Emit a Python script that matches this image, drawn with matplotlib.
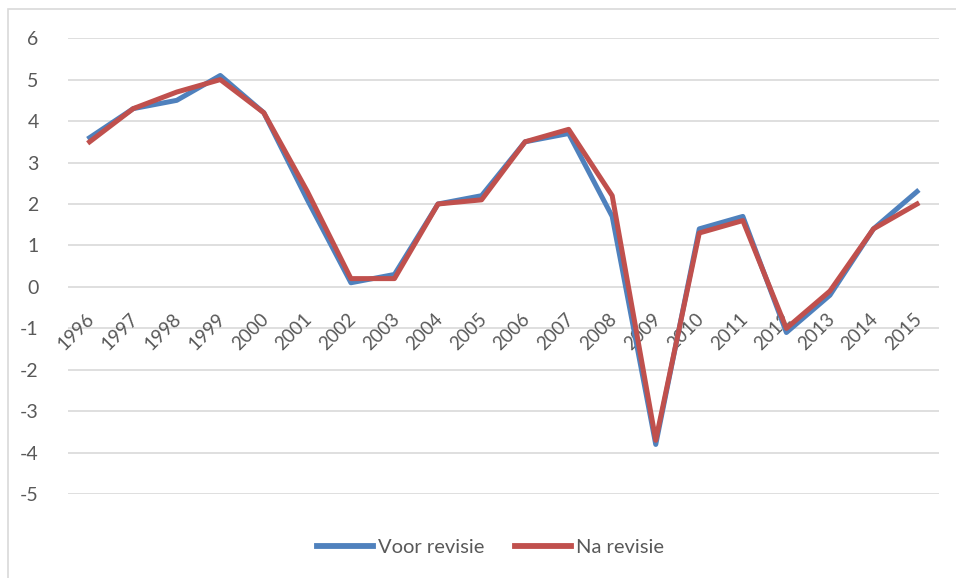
import matplotlib
matplotlib.use('Agg')
import matplotlib.pyplot as plt
from matplotlib.patches import Rectangle
from matplotlib.transforms import offset_copy

years = ['1996', '1997', '1998', '1999', '2000', '2001', '2002', '2003', '2004', '2005',
         '2006', '2007', '2008', '2009', '2010', '2011', '2012', '2013', '2014', '2015']
voor_revisie = [3.6, 4.3, 4.5, 5.1, 4.2, 2.1, 0.1, 0.3, 2.0, 2.2,
                3.5, 3.7, 1.7, -3.8, 1.4, 1.7, -1.1, -0.2, 1.4, 2.3]
na_revisie = [3.5, 4.3, 4.7, 5.0, 4.2, 2.3, 0.2, 0.2, 2.0, 2.1,
              3.5, 3.8, 2.2, -3.7, 1.3, 1.6, -1.0, -0.1, 1.4, 2.0]

plt.rcParams['font.family'] = ['Lato', 'DejaVu Sans']
plt.rcParams['axes.unicode_minus'] = False
txt_col = '#595959'

fig = plt.figure(figsize=(9.56, 5.78), dpi=100)
ax = fig.add_axes([0.071, 0.145, 0.911, 0.789])

x = list(range(len(years)))
ax.plot(x, voor_revisie, color='#4F81BD', lw=3.6, label='Voor revisie', solid_joinstyle='round', zorder=3)
ax.plot(x, na_revisie, color='#C0504D', lw=3.6, label='Na revisie', solid_joinstyle='round', zorder=4)

ax.set_xlim(-0.5, len(years) - 0.5)
ax.set_ylim(-5, 6)
ax.set_yticks(range(-5, 7))
ax.yaxis.grid(True, color='#D9D9D9', lw=1.2)
ax.set_axisbelow(True)
for s in ax.spines.values():
    s.set_visible(False)
ax.tick_params(axis='y', length=0, pad=21, labelsize=14, labelcolor=txt_col)
ax.set_xticks([])

# category labels sit next to the zero line, rotated like in Excel
trans = offset_copy(ax.transData, fig=fig, x=-4, y=-23, units='dots')
for i, yr in enumerate(years):
    ax.text(i, 0, yr, transform=trans, rotation=45, rotation_mode='anchor',
            ha='right', va='top', fontsize=13.5, color=txt_col, zorder=2)

leg = fig.legend(loc='center', bbox_to_anchor=(0.513, 0.052), ncol=2, frameon=False,
                 fontsize=14.5, handlelength=2.8, handletextpad=0.25, columnspacing=1.5)
for t in leg.get_texts():
    t.set_color(txt_col)
for h in leg.legend_handles:
    h.set_linewidth(4.2)

fig.patches.append(Rectangle((8 / 956, -0.1), 1.2, 1 - 9 / 578 + 0.1, transform=fig.transFigure,
                             fill=False, edgecolor='#D9D9D9', lw=1.2))

fig.savefig('out.png', dpi=100)
